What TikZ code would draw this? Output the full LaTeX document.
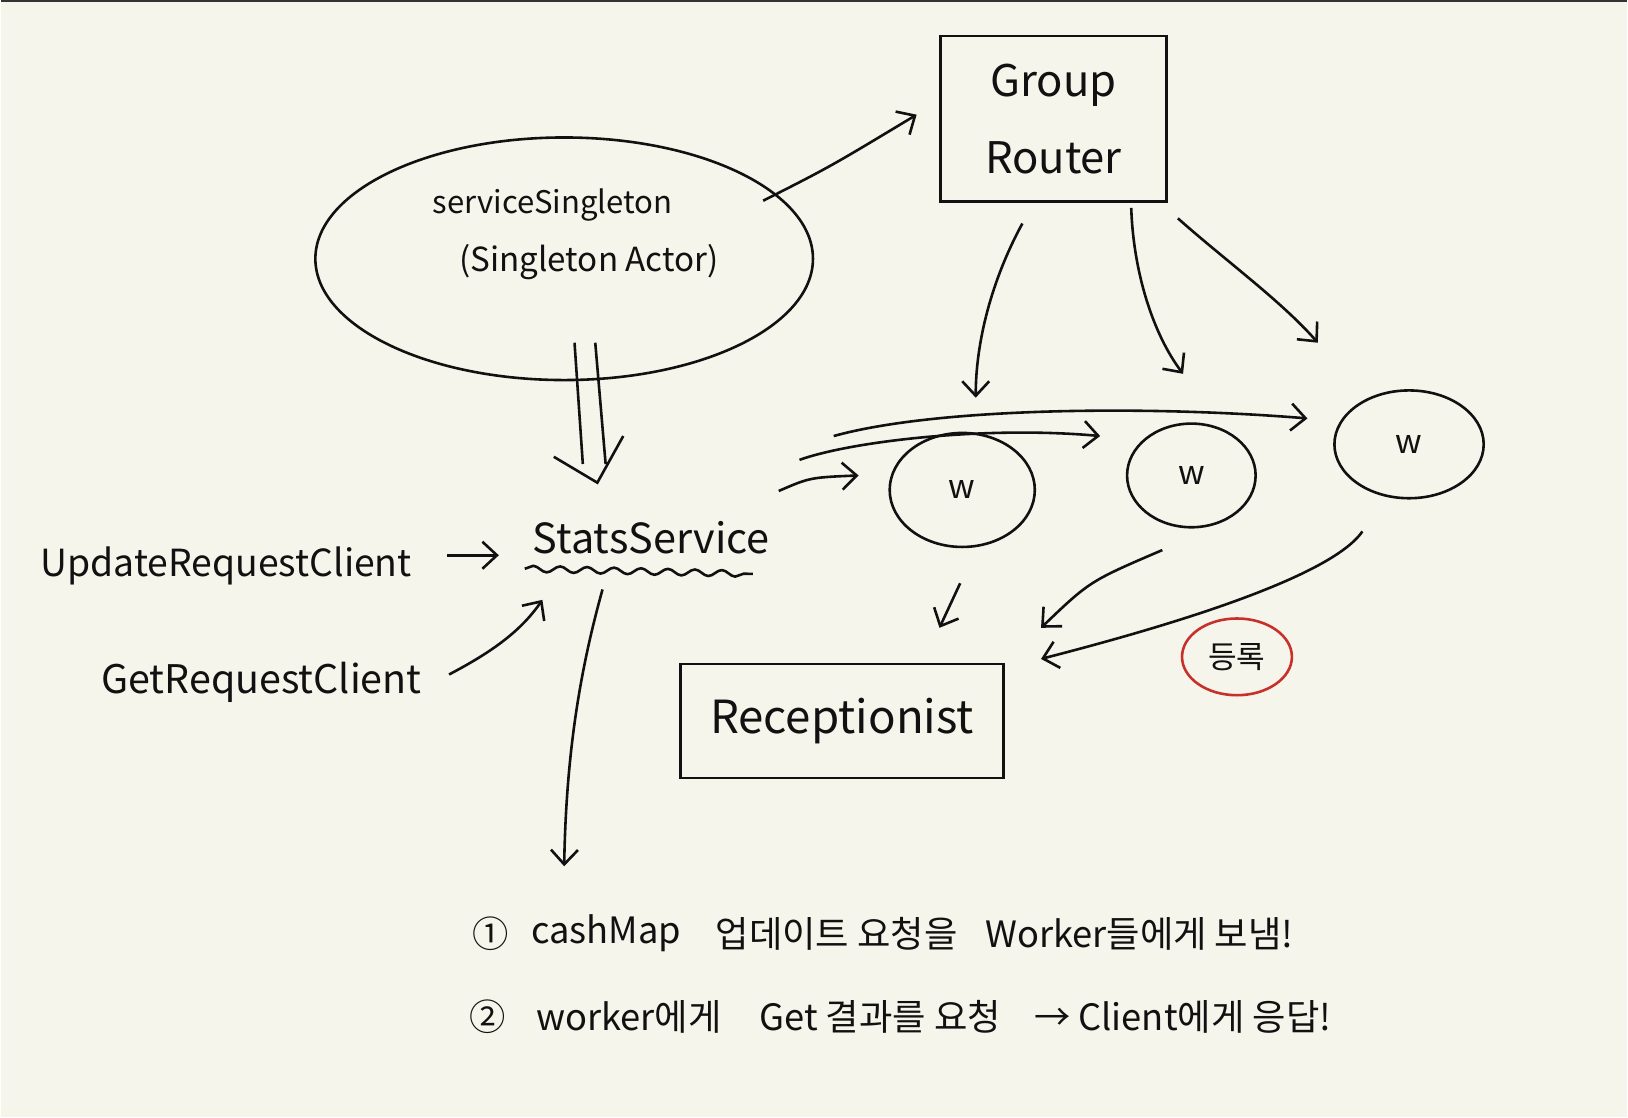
\documentclass[tikz,border=0pt]{standalone}
\usepackage{fontspec}
\setmainfont{Noto Sans CJK KR}
\usetikzlibrary{arrows.meta,shapes.geometric,decorations.pathmorphing}
\definecolor{paper}{HTML}{F5F5EB}
\definecolor{ink}{HTML}{111111}
\definecolor{redink}{HTML}{C8302A}
\begin{document}
\begin{tikzpicture}[x=0.5pt,y=-0.5pt, line width=1.25pt, draw=ink, text=ink,
  arr/.style={-{Straight Barb[length=7pt,width=13pt,line width=1.25pt]}},
  box/.style={draw,rectangle,inner sep=0pt},
  oval/.style={draw,ellipse,inner sep=0pt},
  lbl/.style={inner sep=0pt},
  bt/.style={inner sep=0pt, anchor=west, font=\fontsize{17.5}{17.5}\selectfont}]
\fill[paper] (0,0) rectangle (1568,1077);
\draw[line width=1.2pt, black!80] (0,0.6) -- (1568,0.6);
\useasboundingbox (0,0) rectangle (1568,1077);

% nodes
\node[oval, minimum width=240pt, minimum height=117pt] (sing) at (543,249) {};
\node[lbl, font=\fontsize{15}{15}\selectfont] (t1) at (532,197) {serviceSingleton};
\node[lbl, font=\fontsize{16}{16}\selectfont] (t2) at (567,252) {(Singleton Actor)};
\node[box, minimum width=109pt, minimum height=80pt, align=center,
      font=\fontsize{21}{37}\selectfont] (gr) at (1015,114) {Group\\Router};
\node[oval, minimum width=70pt, minimum height=55pt, font=\fontsize{16}{16}\selectfont] (w1) at (927,472) {w};
\node[oval, minimum width=62pt, minimum height=50pt, font=\fontsize{16}{16}\selectfont] (w2) at (1148,458) {w};
\node[oval, minimum width=72pt, minimum height=52pt, font=\fontsize{16}{16}\selectfont] (w3) at (1358,428) {w};
\node[lbl, font=\fontsize{20}{20}\selectfont] (ss) at (627,518) {StatsService};
\node[lbl, font=\fontsize{18}{18}\selectfont] (upd) at (217,545) {UpdateRequestClient};
\node[lbl, font=\fontsize{19}{19}\selectfont] (get) at (251,658) {GetRequestClient};
\node[box, minimum width=156pt, minimum height=55pt, font=\fontsize{22}{22}\selectfont] (rec) at (811,695) {Receptionist};
\node[oval, draw=redink, minimum width=53pt, minimum height=37pt, font=\fontsize{15}{15}\selectfont] (reg) at (1192,633) {등록};

% bottom notes
\node[bt] (n1a) at (453,900) {①};
\node[bt] (n1b) at (510,900) {cashMap};
\node[bt] (n1c) at (688,900) {업데이트 요청을};
\node[bt] (n1d) at (948,900) {Worker들에게 보냄!};
\node[bt] (n2a) at (450,980) {②};
\node[bt] (n2b) at (515,980) {worker에게};
\node[bt] (n2c) at (730,980) {Get 결과를 요청};
\node[bt] (n2d) at (995,980) {→ Client에게 응답!};

% connector points
\coordinate (a1s) at (735,193);  \coordinate (a1e) at (883,110);
\coordinate (g1s) at (985,215);  \coordinate (g1e) at (940,383);
\coordinate (g2s) at (1090,200); \coordinate (g2e) at (1140,360);
\coordinate (g3s) at (1135,210); \coordinate (g3e) at (1270,330);
\coordinate (s1s) at (750,473);  \coordinate (s1e) at (827,458);
\coordinate (s2s) at (770,443);  \coordinate (s2e) at (1060,420);
\coordinate (s3s) at (803,420);  \coordinate (s3e) at (1260,403);
\coordinate (u1s) at (430,535);  \coordinate (u1e) at (480,535);
\coordinate (q1s) at (432,650);  \coordinate (q1e) at (522,578);
\coordinate (d1s) at (580,568);  \coordinate (d1e) at (543,835);
\coordinate (r1s) at (925,562);  \coordinate (r1e) at (905,605);
\coordinate (r2s) at (1120,530); \coordinate (r2e) at (1003,605);
\coordinate (r3s) at (1313,512); \coordinate (r3e) at (1003,635);
\coordinate (dl1s) at (553,330); \coordinate (dl1e) at (561,447);
\coordinate (dl2s) at (573,330); \coordinate (dl2e) at (583,447);
\coordinate (vl) at (533,440); \coordinate (vt) at (575,465); \coordinate (vr) at (600,420);

% connectors
\draw[arr] (a1s) .. controls (800,160) .. (a1e);
\draw[arr] (g1s) .. controls (955,270) and (940,330) .. (g1e);
\draw[arr] (g2s) .. controls (1092,260) and (1110,320) .. (g2e);
\draw[arr] (g3s) .. controls (1180,250) and (1235,290) .. (g3e);
\draw[arr] (s1s) .. controls (780,460) .. (s1e);
\draw[arr] (s2s) .. controls (820,425) and (950,410) .. (s2e);
\draw[arr] (s3s) .. controls (900,393) and (1100,390) .. (s3e);
\draw[arr] (u1s) -- (u1e);
\draw[arr] (q1s) .. controls (470,630) and (500,610) .. (q1e);
\draw[arr] (d1s) .. controls (560,640) and (545,720) .. (d1e);
\draw[arr] (r1s) -- (r1e);
\draw[arr] (r2s) .. controls (1050,560) .. (r2e);
\draw[arr] (r3s) .. controls (1280,560) and (1100,610) .. (r3e);
\draw (dl1s) -- (dl1e);
\draw (dl2s) -- (dl2e);
\draw (vl) -- (vt) -- (vr);
\draw[decorate, decoration={snake, amplitude=1.5pt, segment length=13pt}] (505,548) -- (725,553);
\end{tikzpicture}
\end{document}
